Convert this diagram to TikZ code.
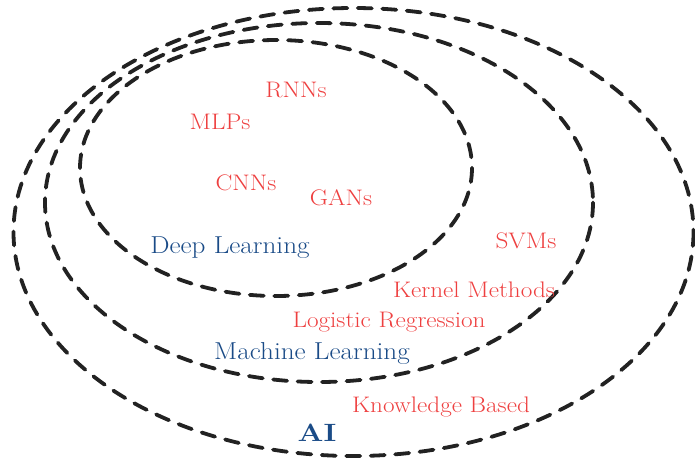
\documentclass[tikz,border=0pt]{standalone}
\usepackage{xcolor}
\usepackage{graphicx}
\definecolor{lbl}{HTML}{EE4040}
\definecolor{grp}{HTML}{1A4B87}
\definecolor{ln}{HTML}{222222}
\newcommand{\wide}[2]{\scalebox{#1}[1]{#2}}
\begin{document}
\begin{tikzpicture}[x=1pt,y=-1pt,
  ring/.style={draw=ln,line width=3.8pt,line cap=round,dash pattern=on 14pt off 10.5pt},
  item/.style={text=lbl,font=\fontsize{22.5}{26}\selectfont,inner sep=0pt},
  group/.style={text=grp,font=\fontsize{24.5}{28}\selectfont,inner sep=0pt}]
\useasboundingbox (0,0) rectangle (695,459);
\draw[ring] (353.5,232) ellipse [x radius=340, y radius=224];
\draw[ring] (319,202.5) ellipse [x radius=274, y radius=179.5];
\draw[ring] (276,168) ellipse [x radius=196, y radius=128];
\node[item] (rnn) at (296,90) {\wide{1.12}{RNNs}};
\node[item] (mlp) at (220,122) {\wide{1.12}{MLPs}};
\node[item] (cnn) at (246,183) {\wide{1.12}{CNNs}};
\node[item] (gan) at (341,198) {\wide{1.12}{GANs}};
\node[group] (dl) at (230,248) {\wide{1.11}{Deep Learning}};
\node[item] (svm) at (526,241) {\wide{1.12}{SVMs}};
\node[item] (kern) at (474,290) {\wide{1.12}{Kernel Methods}};
\node[item] (logr) at (389,322) {\wide{1.12}{Logistic Regression}};
\node[group] (ml) at (312,353) {\wide{1.11}{Machine Learning}};
\node[item] (kb) at (441,407) {\wide{1.12}{Knowledge Based}};
\node[group,font=\fontsize{25}{28}\selectfont\bfseries] (ai) at (317,433) {\wide{1.22}{AI}};
\end{tikzpicture}
\end{document}
